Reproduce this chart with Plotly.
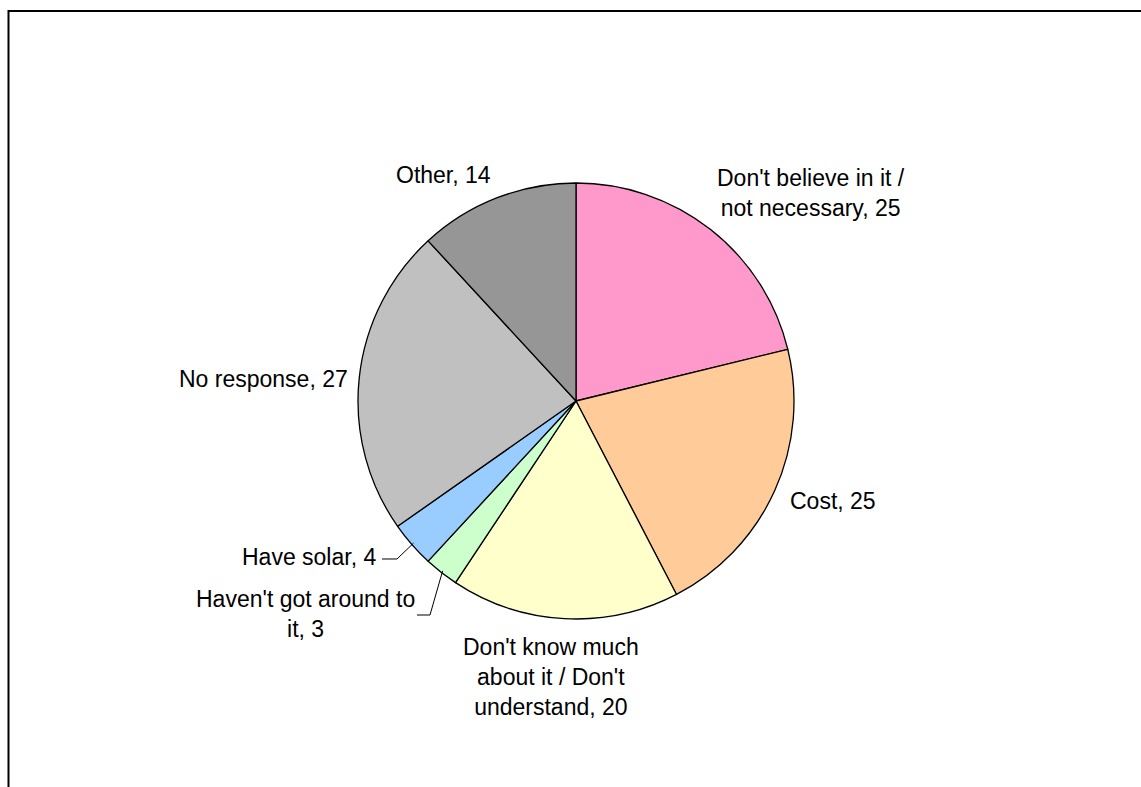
import math
import plotly.graph_objects as go

# ---- data ----
categories = [
    "Don't believe in it / not necessary",
    "Cost",
    "Don't know much about it / Don't understand",
    "Haven't got around to it",
    "Have solar",
    "No response",
    "Other",
]
values = [25, 25, 20, 3, 4, 27, 14]
label_texts = [
    "Don't believe in it /<br>not necessary, 25",
    "Cost, 25",
    "Don't know much<br>about it / Don't<br>understand, 20",
    "Haven't got around to<br>it, 3",
    "Have solar, 4",
    "No response, 27",
    "Other, 14",
]
colors = ["#FF99CC", "#FFCC99", "#FFFFCC", "#CCFFCC", "#99CCFF", "#C0C0C0", "#969696"]

# ---- layout geometry (screen pixels) ----
W, H = 1141, 787
CX, CY, R = 576, 401, 218  # pie centre / radius on screen

def px(X):
    return X / W

def py(Y):
    return 1 - Y / H

# label placement: (screen x, screen y, xanchor)
label_pos = [
    (811, 193, "center"),
    (788, 501, "left"),
    (551, 677, "center"),
    (305, 614, "center"),
    (378, 557, "right"),
    (350, 379, "right"),
    (443, 175, "center"),
]
# leader line elbows for small slices: index -> screen points before the slice edge
leaders = {
    3: [(417, 615), (430, 615)],
    4: [(382, 559), (397, 559)],
}

font = dict(family="Liberation Sans, Arial, sans-serif", size=23, color="black")

fig = go.Figure()
fig.add_trace(go.Pie(
    labels=categories,
    values=values,
    sort=False,
    direction="clockwise",
    rotation=0,
    textinfo="none",
    hoverinfo="label+value",
    marker=dict(colors=colors, line=dict(color="black", width=1.3)),
    showlegend=False,
    domain=dict(
        x=[px(CX - R), px(CX + R)],
        y=[py(CY + R), py(CY - R)],
    ),
))

annotations = []
for txt, (X, Y, xa) in zip(label_texts, label_pos):
    annotations.append(dict(
        x=px(X), y=py(Y), xref="paper", yref="paper",
        text=txt, showarrow=False, xanchor=xa, yanchor="middle",
        align="center", font=font,
    ))

# leader lines to mid-angles of the slices
total = sum(values)
cum = 0
mids = []
for v in values:
    mids.append((cum + v / 2) / total * 2 * math.pi)
    cum += v

shapes = []
for idx, pts in leaders.items():
    a = mids[idx]
    ex, ey = CX + (R - 2) * math.sin(a), CY - (R - 2) * math.cos(a)
    allpts = pts + [(ex, ey)]
    path = "M " + " L ".join(f"{px(x):.5f},{py(y):.5f}" for x, y in allpts)
    shapes.append(dict(type="path", xref="paper", yref="paper", path=path,
                       line=dict(color="black", width=1)))

# chart-area border (left and top visible)
shapes.append(dict(type="path", xref="paper", yref="paper",
                   path=f"M {px(8.5):.5f},{py(800):.5f} L {px(8.5):.5f},{py(11):.5f} L {px(1141):.5f},{py(11):.5f}",
                   line=dict(color="black", width=2)))

fig.update_layout(
    width=W, height=H,
    margin=dict(l=0, r=0, t=0, b=0),
    paper_bgcolor="white",
    plot_bgcolor="white",
    annotations=annotations,
    shapes=shapes,
    font=font,
)

fig.write_html(
    "out.html",
    config={"displayModeBar": False},
    post_script="document.body.style.margin='0';document.body.style.overflow='hidden';",
)
